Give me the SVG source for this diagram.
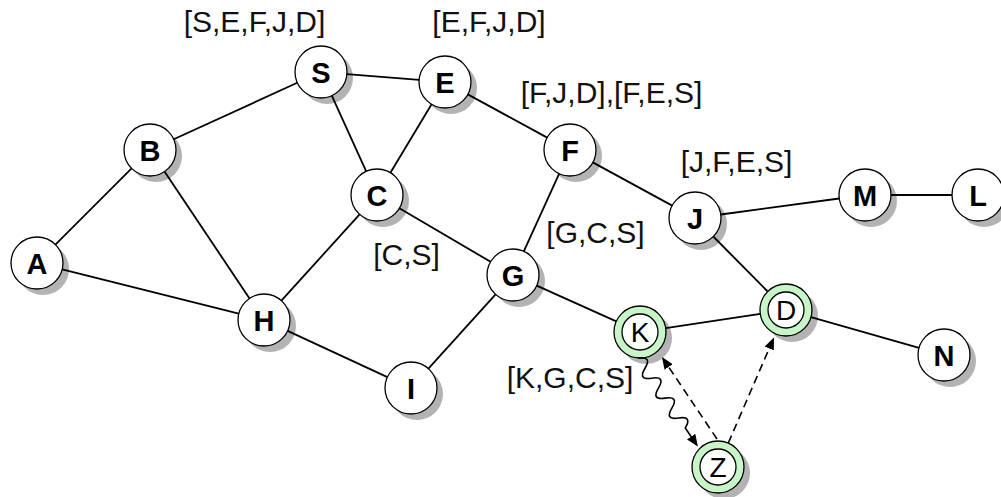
<svg xmlns="http://www.w3.org/2000/svg" width="1001" height="497" viewBox="0 0 1001 497">
<style>
.sh{fill:#b3b3b3;stroke:none}
.nd{fill:#fff;stroke:#000;stroke-width:1.3}
.gr{fill:#c8f5c8;stroke:#000;stroke-width:1.3}
.nl{font-family:"Liberation Sans",Arial,sans-serif;font-weight:bold;font-size:29px;text-anchor:middle;fill:#000}
.gl{font-family:"Liberation Sans",Arial,sans-serif;font-size:28px;text-anchor:middle;fill:#000}
.lb{font-family:"Liberation Sans",Arial,sans-serif;font-size:30px;text-anchor:middle;fill:#111}
.e{stroke:#000;stroke-width:1.8;fill:none}
.d{stroke:#000;stroke-width:1.6;fill:none;stroke-dasharray:8,5}
.w{stroke:#000;stroke-width:1.6;fill:none}
</style>
<defs>
<marker id="ah" markerUnits="userSpaceOnUse" markerWidth="12" markerHeight="10" viewBox="0 0 12 10" refX="10" refY="5" orient="auto">
<path d="M0,0 L12,5 L0,10 z" fill="#000"/>
</marker>
</defs>
<rect width="1001" height="497" fill="#fff"/>
<g id="node-A"><circle class="sh" cx="43" cy="269" r="26"/><circle class="nd" cx="37" cy="263" r="26"/><text class="nl" x="37" y="273.5">A</text></g>
<g id="node-B"><circle class="sh" cx="156" cy="156" r="26"/><circle class="nd" cx="150" cy="150" r="26"/><text class="nl" x="150" y="160.5">B</text></g>
<g id="node-S"><circle class="sh" cx="327" cy="78" r="26"/><circle class="nd" cx="321" cy="72" r="26"/><text class="nl" x="321" y="82.5">S</text></g>
<g id="node-E"><circle class="sh" cx="451" cy="88" r="26"/><circle class="nd" cx="445" cy="82" r="26"/><text class="nl" x="445" y="92.5">E</text></g>
<g id="node-C"><circle class="sh" cx="383" cy="201" r="26"/><circle class="nd" cx="377" cy="195" r="26"/><text class="nl" x="377" y="205.5">C</text></g>
<g id="node-F"><circle class="sh" cx="576" cy="156" r="26"/><circle class="nd" cx="570" cy="150" r="26"/><text class="nl" x="570" y="160.5">F</text></g>
<g id="node-J"><circle class="sh" cx="701" cy="224" r="26"/><circle class="nd" cx="695" cy="218" r="26"/><text class="nl" x="695" y="228.5">J</text></g>
<g id="node-M"><circle class="sh" cx="871" cy="201" r="26"/><circle class="nd" cx="865" cy="195" r="26"/><text class="nl" x="865" y="205.5">M</text></g>
<g id="node-L"><circle class="sh" cx="984" cy="201" r="26"/><circle class="nd" cx="978" cy="195" r="26"/><text class="nl" x="978" y="205.5">L</text></g>
<g id="node-G"><circle class="sh" cx="519" cy="281" r="26"/><circle class="nd" cx="513" cy="275" r="26"/><text class="nl" x="513" y="285.5">G</text></g>
<g id="node-H"><circle class="sh" cx="270" cy="326" r="26"/><circle class="nd" cx="264" cy="320" r="26"/><text class="nl" x="264" y="330.5">H</text></g>
<g id="node-I"><circle class="sh" cx="417" cy="394" r="26"/><circle class="nd" cx="411" cy="388" r="26"/><text class="nl" x="411" y="398.5">I</text></g>
<g id="node-N"><circle class="sh" cx="950" cy="361" r="26"/><circle class="nd" cx="944" cy="355" r="26"/><text class="nl" x="944" y="365.5">N</text></g>
<g id="node-K"><circle class="sh" cx="646" cy="338" r="26"/><circle class="gr" cx="640" cy="332" r="26"/><circle class="nd" cx="640" cy="332" r="18"/><text class="gl" x="640" y="342">K</text></g>
<g id="node-D"><circle class="sh" cx="792" cy="316" r="26"/><circle class="gr" cx="786" cy="310" r="26"/><circle class="nd" cx="786" cy="310" r="18"/><text class="gl" x="786" y="320">D</text></g>
<g id="node-Z"><circle class="sh" cx="724" cy="473" r="26"/><circle class="gr" cx="718" cy="467" r="26"/><circle class="nd" cx="718" cy="467" r="18"/><text class="gl" x="718" y="477">Z</text></g>
<g id="connectors">
<line class="e" x1="55.4" y1="244.6" x2="131.6" y2="168.4"/>
<line class="e" x1="62.2" y1="269.3" x2="238.8" y2="313.7"/>
<line class="e" x1="173.7" y1="139.2" x2="297.3" y2="82.8"/>
<line class="e" x1="164.5" y1="171.6" x2="249.5" y2="298.4"/>
<line class="e" x1="346.9" y1="74.1" x2="419.1" y2="79.9"/>
<line class="e" x1="331.8" y1="95.7" x2="366.2" y2="171.3"/>
<line class="e" x1="431.6" y1="104.3" x2="390.4" y2="172.7"/>
<line class="e" x1="467.8" y1="94.4" x2="547.2" y2="137.6"/>
<line class="e" x1="359.6" y1="214.3" x2="281.4" y2="300.7"/>
<line class="e" x1="399.4" y1="208.2" x2="490.6" y2="261.8"/>
<line class="e" x1="559.2" y1="173.7" x2="523.8" y2="251.3"/>
<line class="e" x1="592.8" y1="162.4" x2="672.2" y2="205.6"/>
<line class="e" x1="495.6" y1="294.3" x2="428.4" y2="368.7"/>
<line class="e" x1="287.6" y1="330.9" x2="387.4" y2="377.1"/>
<line class="e" x1="536.7" y1="285.6" x2="616.3" y2="321.4"/>
<line class="e" x1="665.7" y1="328.1" x2="760.3" y2="313.9"/>
<line class="e" x1="713.3" y1="236.5" x2="767.7" y2="291.5"/>
<line class="e" x1="720.8" y1="214.5" x2="839.2" y2="198.5"/>
<line class="e" x1="891" y1="195" x2="952" y2="195"/>
<line class="e" x1="811" y1="317.1" x2="919" y2="347.9"/>
<path class="w" transform="translate(638.3,358.3) rotate(56)" d="M0,0 q6,-13 12,0 q6,13 12,0 q6,-13 12,0 q6,13 12,0 q6,-13 12,0 q6,13 12,0 q6,-13 12,0 L104.5,0" marker-end="url(#ah)"/>
<path class="d" d="M717,439 L663.1,358.7" marker-end="url(#ah)"/>
<path class="d" d="M728.3,443 L773.2,339.3" marker-end="url(#ah)"/>
</g>
<g id="labels">
<text class="lb" x="254.5" y="32">[S,E,F,J,D]</text>
<text class="lb" x="489" y="32">[E,F,J,D]</text>
<text class="lb" x="611.5" y="103">[F,J,D],[F,E,S]</text>
<text class="lb" x="736.5" y="172">[J,F,E,S]</text>
<text class="lb" x="406.5" y="265">[C,S]</text>
<text class="lb" x="595.5" y="243">[G,C,S]</text>
<text class="lb" x="570" y="388">[K,G,C,S]</text>
</g>
</svg>
